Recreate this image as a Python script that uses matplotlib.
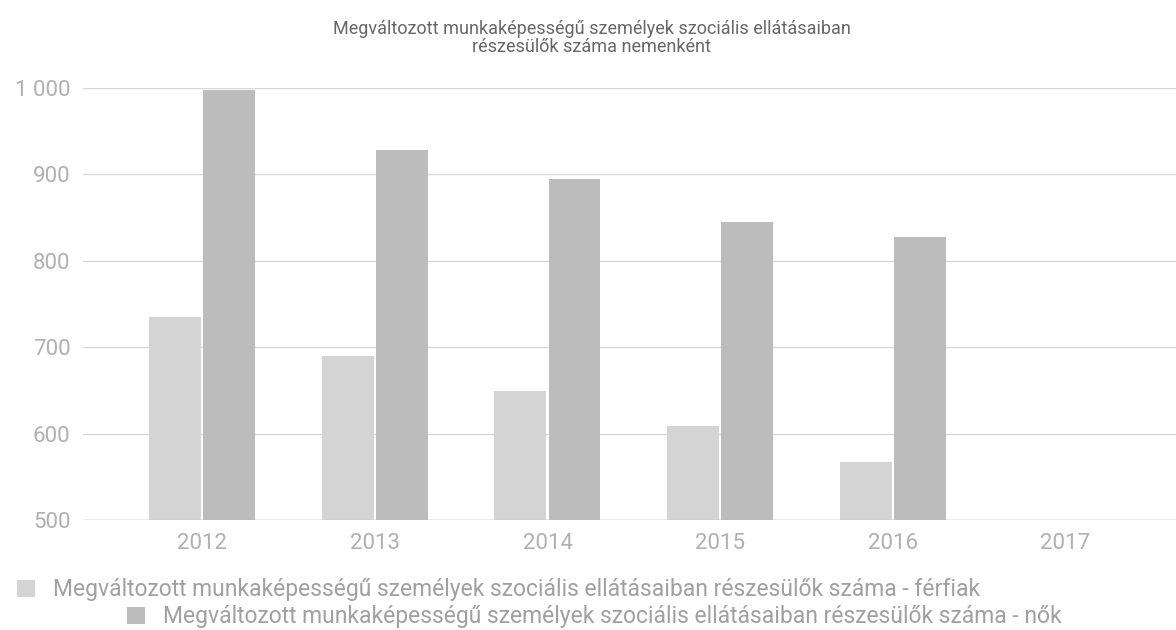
import matplotlib.pyplot as plt
import numpy as np

# adatok
years = ["2012", "2013", "2014", "2015", "2016", "2017"]
ferfiak = [735, 690, 649, 609, 567, np.nan]
nok = [998, 928, 895, 845, 828, np.nan]
label_ferfi = "Megváltozott munkaképességű személyek szociális ellátásaiban részesülők száma - férfiak"
label_no = "Megváltozott munkaképességű személyek szociális ellátásaiban részesülők száma - nők"
title = "Megváltozott munkaképességű személyek szociális ellátásaiban\nrészesülők száma nemenként"
yticks = [500, 600, 700, 800, 900, 1000]

plt.rcParams['font.family'] = ['Roboto', 'DejaVu Sans']

fig = plt.figure(figsize=(11.76, 6.3), dpi=100)
ax = fig.add_axes([83 / 1176, 0.1746, 1 - 83 / 1176, 0.6857])

x = np.arange(len(years))
w = 0.3
b1 = ax.bar(x - 0.157, ferfiak, width=w, bottom=0, color="#d4d4d4", zorder=2)
b2 = ax.bar(x + 0.157, nok, width=w, bottom=0, color="#bcbcbc", zorder=2)

ax.set_ylim(500, 1000)
ax.set_xlim(-0.69, 5.64)
ax.set_yticks(yticks)
ax.set_yticklabels(["{:,}".format(v).replace(",", " ") for v in yticks])
ax.set_xticks(x)
ax.set_xticklabels(years)
ax.tick_params(length=0, labelsize=16, colors="#b0b0b0")
ax.tick_params(axis="y", pad=9)
ax.tick_params(axis="x", pad=9)
ax.grid(axis="y", color="#d8d8d8", linewidth=1, zorder=0)
for s in ax.spines.values():
    s.set_visible(False)
ax.axhline(500, color="#bdbdbd", linewidth=1, zorder=3)

fig.text(0.503, 0.968, title, ha="center", va="top", fontsize=13,
         color="#666666", linespacing=1.0)

# jelmagyarázat két sorban, a második beljebb húzva
l1 = fig.legend([b1], [label_ferfi], loc="upper left", bbox_to_anchor=(0.0145, 0.082),
                frameon=False, fontsize=16.5, handlelength=0.8, handleheight=0.8,
                handletextpad=0.75, borderpad=0, borderaxespad=0)
for t in l1.get_texts():
    t.set_color("#a0a0a0")
l2 = fig.legend([b2], [label_no], loc="upper left", bbox_to_anchor=(0.108, 0.039),
                frameon=False, fontsize=16.5, handlelength=0.8, handleheight=0.8,
                handletextpad=0.75, borderpad=0, borderaxespad=0)
for t in l2.get_texts():
    t.set_color("#a0a0a0")

plt.savefig("out.png", dpi=100)
